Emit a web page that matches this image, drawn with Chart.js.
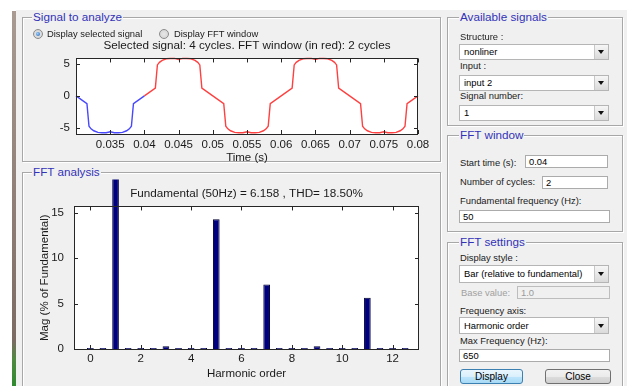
<!DOCTYPE html>
<html><head><meta charset="utf-8">
<script src="https://cdn.jsdelivr.net/npm/chart.js@4/dist/chart.umd.min.js"></script>
<style>
body{margin:0;width:627px;height:386px;overflow:hidden;background:#fff;position:relative;font-family:'Liberation Sans',Arial,sans-serif;}
.win{position:absolute;left:16px;top:10px;width:611px;height:376px;background:#f0f0f0;}
.strip{position:absolute;left:12px;top:11px;width:4px;height:375px;background:linear-gradient(to bottom,#a99a92 0%,#8a7a72 60%,#7a6a62 88%,#4f8a40 93%,#2f8a2f 100%);}
.frame{position:absolute;border:1px solid #a7a7a7;box-shadow:inset 1px 1px 0 #fff,1px 1px 0 #fff;}
.ft{position:absolute;top:-8px;background:#f0f0f0;color:#3333b8;font-size:11.7px;line-height:14px;padding:0 1px;white-space:nowrap;z-index:6;}
.lab{position:absolute;font-size:9.4px;line-height:12px;color:#1a1a1a;white-space:nowrap;z-index:5;}
.pop{position:absolute;background:#fff;border:1px solid #b5b5b5;font-size:9.4px;color:#000;box-sizing:border-box;padding-left:4px;white-space:nowrap;z-index:5;}
.pop .btn{position:absolute;right:0;top:0;bottom:0;width:13px;background:linear-gradient(#f6f6f6,#dadada);border-left:1px solid #c8c8c8;}
.pop .btn:after{content:"";position:absolute;left:3px;top:50%;margin-top:-2px;border-left:3.5px solid transparent;border-right:3.5px solid transparent;border-top:4px solid #111;}
.edit{position:absolute;background:#fff;border:1px solid #ababab;font-size:9.4px;color:#000;box-sizing:border-box;padding-left:3px;white-space:nowrap;z-index:5;}
.button{position:absolute;box-sizing:border-box;border-radius:3px;font-size:10px;text-align:center;color:#000;z-index:5;}
.radio{position:absolute;width:10px;height:10px;border-radius:50%;box-sizing:border-box;border:1px solid #8a8a8a;background:radial-gradient(circle,#e8e8e8,#d0d0d0);z-index:5;}
.radio.on:after{content:"";position:absolute;left:2px;top:2px;width:4px;height:4px;border-radius:50%;background:radial-gradient(circle at 40% 40%,#9fd0ff,#1b5fb0);}
canvas{position:absolute;z-index:3;}
.cover{position:absolute;left:20px;top:163px;width:424px;height:8px;background:#f0f0f0;z-index:4;}
</style></head>
<body>
<div class="win"></div>
<div class="strip"></div>

<div class="frame" style="left:22px;top:17px;width:417px;height:143px;"><div class="ft" style="left:9px;">Signal to analyze</div></div>
<div class="frame" style="left:22px;top:172px;width:417px;height:230px;"><div class="ft" style="left:9px;">FFT analysis</div></div>
<div class="frame" style="left:447px;top:17px;width:174px;height:107px;"><div class="ft" style="left:11px;">Available signals</div></div>
<div class="frame" style="left:447px;top:135px;width:174px;height:95px;"><div class="ft" style="left:11px;">FFT window</div></div>
<div class="frame" style="left:447px;top:242px;width:174px;height:160px;"><div class="ft" style="left:11px;">FFT settings</div></div>

<div class="radio on" style="left:33px;top:29px;"></div>
<div class="lab" style="left:47px;top:28px;">Display selected signal</div>
<div class="radio" style="left:159px;top:29px;"></div>
<div class="lab" style="left:174px;top:28px;">Display FFT window</div>

<div class="lab" style="left:460px;top:31px;">Structure :</div>
<div class="pop" style="left:459px;top:44px;width:150px;height:16px;line-height:14px;">nonliner<div class="btn"></div></div>
<div class="lab" style="left:460px;top:60px;">Input :</div>
<div class="pop" style="left:459px;top:75px;width:150px;height:16px;line-height:14px;">input 2<div class="btn"></div></div>
<div class="lab" style="left:460px;top:90px;">Signal number:</div>
<div class="pop" style="left:459px;top:105px;width:150px;height:16px;line-height:14px;">1<div class="btn"></div></div>

<div class="lab" style="left:460px;top:157px;">Start time (s):</div>
<div class="edit" style="left:525px;top:155px;width:83px;height:13px;line-height:11px;">0.04</div>
<div class="lab" style="left:460px;top:176px;">Number of cycles:</div>
<div class="edit" style="left:542px;top:176px;width:66px;height:13px;line-height:11px;">2</div>
<div class="lab" style="left:460px;top:195px;">Fundamental frequency (Hz):</div>
<div class="edit" style="left:459px;top:210px;width:151px;height:13px;line-height:11px;">50</div>

<div class="lab" style="left:460px;top:252px;">Display style :</div>
<div class="pop" style="left:459px;top:265px;width:150px;height:18px;line-height:16px;">Bar (relative to fundamental)<div class="btn"></div></div>
<div class="lab" style="left:461px;top:287px;color:#a0a0a0;">Base value:</div>
<div class="edit" style="left:517px;top:286px;width:93px;height:13px;line-height:11px;background:#f0f0f0;color:#9a9a9a;border-color:#bdbdbd;">1.0</div>
<div class="lab" style="left:460px;top:305px;">Frequency axis:</div>
<div class="pop" style="left:459px;top:317px;width:150px;height:17px;line-height:15px;">Harmonic order<div class="btn"></div></div>
<div class="lab" style="left:460px;top:335px;">Max Frequency (Hz):</div>
<div class="edit" style="left:459px;top:349px;width:151px;height:13px;line-height:11px;">650</div>
<div class="button" style="left:460px;top:369px;width:63px;height:15px;line-height:13px;border:1px solid #3c7fb1;background:linear-gradient(#eaf6fd,#d9f0fc 50%,#bee6fd 51%,#a7d9f5);">Display</div>
<div class="button" style="left:545px;top:369px;width:66px;height:15px;line-height:13px;border:1px solid #707070;background:linear-gradient(#f2f2f2,#ebebeb 50%,#dddddd 51%,#cfcfcf);">Close</div>

<canvas id="sig" width="412" height="136" style="left:24px;top:30px;width:412px;height:136px;"></canvas>
<div class="cover"></div>
<canvas id="fft" width="412" height="212" style="left:24px;top:174px;width:412px;height:212px;"></canvas>

<script>
// ---- Signal (time in s, amplitude) ----
const selectedTime  = [0.0300,0.0316,0.0319,0.0322,0.0326,0.0332,0.0338,0.0344,0.0350,0.0356,0.0362,0.0368,0.0374,0.0378,0.0381,0.0384,0.0400];
const selectedValue = [0,-1.2,-4.7,-5.1,-5.4,-5.65,-5.7,-5.7,-5.55,-5.7,-5.7,-5.65,-5.4,-5.1,-4.7,-1.2,0];
const windowTime  = [0.0400,0.0416,0.0419,0.0422,0.0426,0.0432,0.0438,0.0444,0.0450,0.0456,0.0462,0.0468,0.0474,0.0478,0.0481,0.0484,
                     0.0500,0.0516,0.0519,0.0522,0.0526,0.0532,0.0538,0.0544,0.0550,0.0556,0.0562,0.0568,0.0574,0.0578,0.0581,0.0584,
                     0.0600,0.0616,0.0619,0.0622,0.0626,0.0632,0.0638,0.0644,0.0650,0.0656,0.0662,0.0668,0.0674,0.0678,0.0681,0.0684,
                     0.0700,0.0716,0.0719,0.0722,0.0726,0.0732,0.0738,0.0744,0.0750,0.0756,0.0762,0.0768,0.0774,0.0778,0.0781,0.0784,0.0800];
const windowValue = [0,1.2,4.8,5.2,5.5,5.75,5.8,5.8,5.65,5.8,5.8,5.75,5.5,5.2,4.8,1.2,
                     0,-1.2,-4.7,-5.1,-5.4,-5.65,-5.7,-5.7,-5.55,-5.7,-5.7,-5.65,-5.4,-5.1,-4.7,-1.2,
                     0,1.2,4.8,5.2,5.5,5.75,5.8,5.8,5.65,5.8,5.8,5.75,5.5,5.2,4.8,1.2,
                     0,-1.2,-4.7,-5.1,-5.4,-5.65,-5.7,-5.7,-5.55,-5.7,-5.7,-5.65,-5.4,-5.1,-4.7,-1.2,0];
const timeTicks   = [0.035,0.04,0.045,0.05,0.055,0.06,0.065,0.07,0.075,0.08];
const signalTicks = [-5,0,5];

// ---- FFT (harmonic order, magnitude % of fundamental) ----
const harmonicOrder = [0,0.5,1,1.5,2,2.5,3,3.5,4,4.5,5,5.5,6,6.5,7,7.5,8,8.5,9,9.5,10,10.5,11,11.5,12,12.5];
const magPercent    = [0.1,0.1,100,0.1,0.1,0.1,0.3,0.1,0.1,0.1,14.3,0.1,0.1,0.1,7.1,0.1,0.1,0.1,0.3,0.1,0.1,0.1,5.65,0.1,0.1,0.1];
const harmonicTicks = [0,2,4,6,8,10,12];
const magTicks      = [0,5,10,15];

Chart.defaults.font.family = "'Liberation Sans', Arial, sans-serif";
Chart.defaults.font.size = 11.5;
Chart.defaults.color = '#1a1a1a';

const boxPlugin = {
  id: 'mbox',
  beforeDraw(chart){
    const {ctx, chartArea:a} = chart;
    ctx.save(); ctx.fillStyle = '#fff';
    ctx.fillRect(a.left, a.top, a.right-a.left, a.bottom-a.top); ctx.restore();
  },
  afterDraw(chart){
    const {ctx, chartArea:a, scales:{x, y}} = chart;
    ctx.save(); ctx.strokeStyle = '#262626'; ctx.lineWidth = 1;
    ctx.beginPath();
    x.ticks.forEach(t => { const p = Math.round(x.getPixelForValue(t.value)) + 0.5;
      ctx.moveTo(p, a.bottom); ctx.lineTo(p, a.bottom - 4); ctx.moveTo(p, a.top); ctx.lineTo(p, a.top + 4); });
    y.ticks.forEach(t => { const p = Math.round(y.getPixelForValue(t.value)) + 0.5;
      ctx.moveTo(a.left, p); ctx.lineTo(a.left + 4, p); ctx.moveTo(a.right, p); ctx.lineTo(a.right - 4, p); });
    ctx.stroke();
    ctx.strokeRect(Math.round(a.left)+0.5, Math.round(a.top)+0.5, Math.round(a.right-a.left)-1, Math.round(a.bottom-a.top));
    ctx.restore();
  }
};

new Chart(document.getElementById('sig'), {
  type: 'scatter',
  data: { datasets: [
    { data: selectedTime.map((t,i)=>({x:t, y:selectedValue[i]})), showLine:true, pointRadius:0, borderColor:'#4848ff', borderWidth:1.4, clip:2 },
    { data: windowTime.map((t,i)=>({x:t, y:windowValue[i]})), showLine:true, pointRadius:0, borderColor:'#ff4040', borderWidth:1.4, clip:2 }
  ]},
  options: {
    responsive:false, devicePixelRatio:1, animation:false,
    layout:{ padding:{left:0, right:18, top:0, bottom:0} },
    plugins:{ legend:{display:false}, tooltip:{enabled:false},
      title:{ display:true, fullSize:false, text:'Selected signal: 4 cycles. FFT window (in red): 2 cycles', color:'#1a1a1a',
              font:{size:11.7, weight:'normal'}, padding:{top:8.4, bottom:6.0} } },
    scales:{
      x:{ type:'linear', min:0.03, max:0.08,
          afterBuildTicks: s => { s.ticks = timeTicks.map(v=>({value:v})); },
          afterFit: s => { s.height = 32; },
          grid:{display:false, drawTicks:false}, border:{display:false},
          ticks:{ padding:4, maxRotation:0, autoSkip:false, callback: v => String(v) },
          title:{ display:true, text:'Time (s)', padding:{top:0, bottom:1} } },
      y:{ min:-5.9, max:5.8,
          afterBuildTicks: s => { s.ticks = signalTicks.map(v=>({value:v})); },
          afterFit: s => { s.width = 52; },
          grid:{display:false, drawTicks:false}, border:{display:false},
          ticks:{ padding:6, callback: v => String(v) } }
    }
  },
  plugins:[boxPlugin]
});

new Chart(document.getElementById('fft'), {
  type: 'bar',
  data: { datasets: [
    { data: harmonicOrder.map((h,i)=>({x:h, y:magPercent[i]})), backgroundColor:'#00007f', borderColor:'#000033', borderWidth:1,
      barPercentage:0.53, categoryPercentage:1, clip:{left:5, top:27, right:5, bottom:0} }
  ]},
  options: {
    responsive:false, devicePixelRatio:1, animation:false,
    layout:{ padding:{left:0, right:17, top:0, bottom:0} },
    plugins:{ legend:{display:false}, tooltip:{enabled:false},
      title:{ display:true, fullSize:false, text:'Fundamental (50Hz) = 6.158 , THD= 18.50%', color:'#1a1a1a',
              font:{size:11.7, weight:'normal'}, padding:{top:13.0, bottom:5.4} } },
    scales:{
      x:{ type:'linear', min:-0.65, max:13.05, offset:false,
          afterBuildTicks: s => { s.ticks = harmonicTicks.map(v=>({value:v})); },
          afterFit: s => { s.height = 37; },
          grid:{display:false, drawTicks:false, offset:false}, border:{display:false},
          ticks:{ padding:3, maxRotation:0, autoSkip:false, callback: v => String(v) },
          title:{ display:true, text:'Harmonic order', padding:{top:0, bottom:4.8} } },
      y:{ min:0, max:15.7,
          afterBuildTicks: s => { s.ticks = magTicks.map(v=>({value:v})); },
          afterFit: s => { s.width = 50; },
          grid:{display:false, drawTicks:false}, border:{display:false},
          ticks:{ padding:10, callback: v => String(v) },
          title:{ display:true, text:'Mag (% of Fundamental)', padding:{top:13.8, bottom:0} } }
    }
  },
  plugins:[boxPlugin]
});
</script>
</body></html>
